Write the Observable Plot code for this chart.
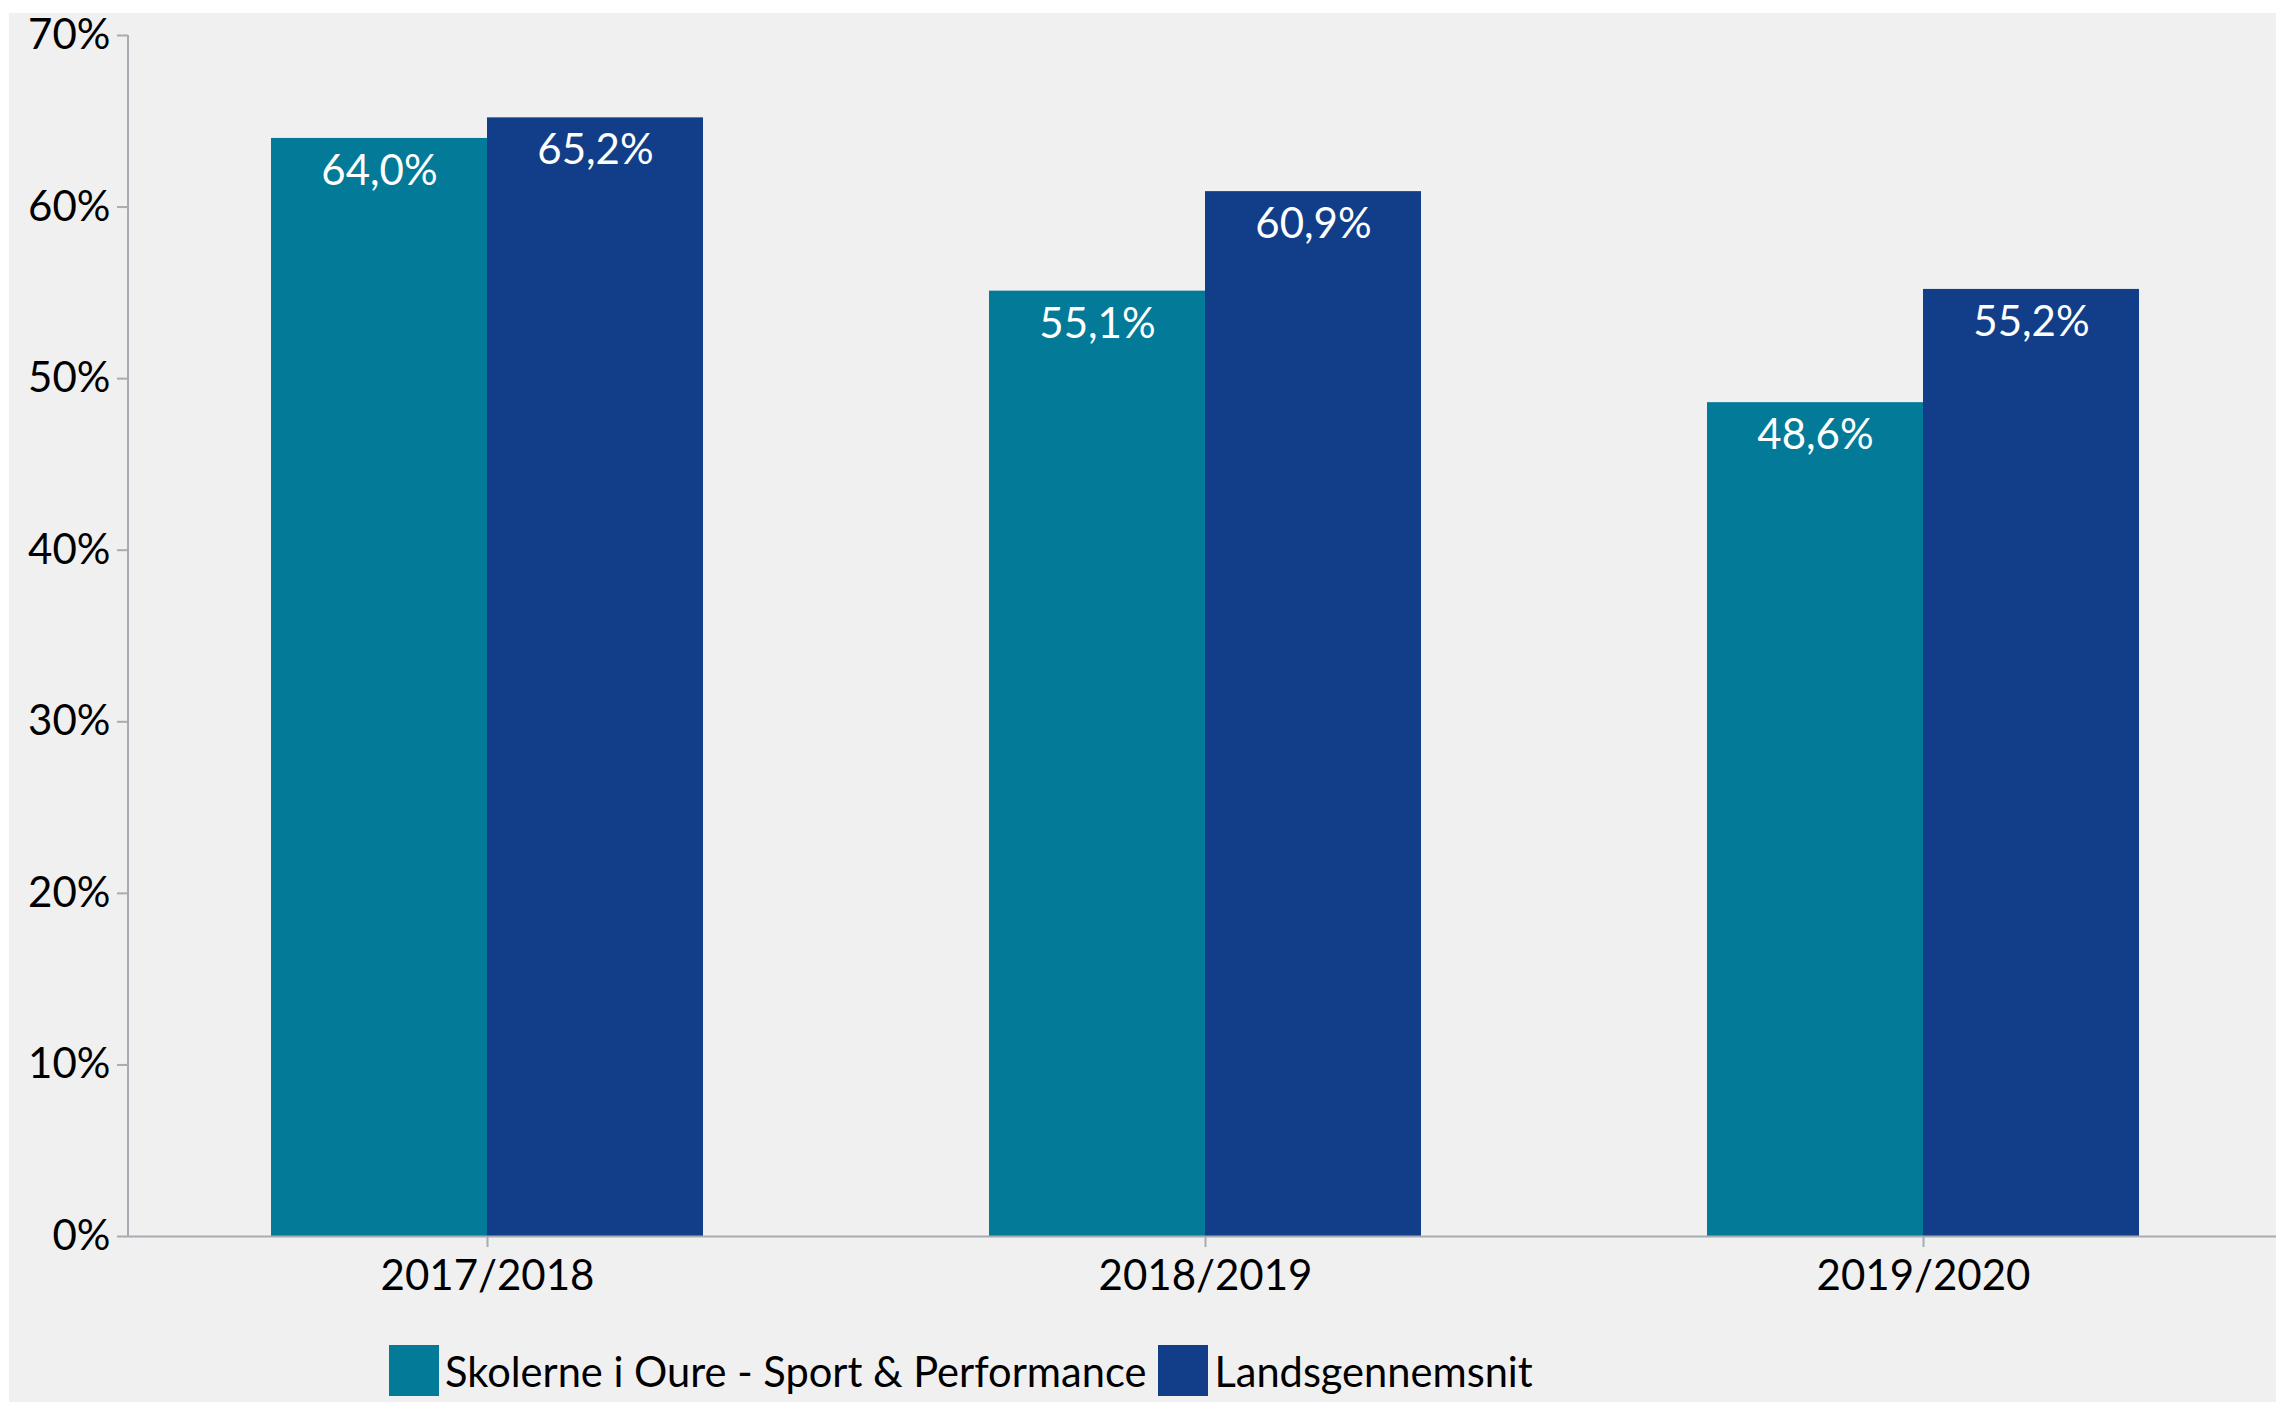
<!DOCTYPE html>
<html>
<head>
<meta charset="utf-8">
<script src="https://cdn.jsdelivr.net/npm/d3@7"></script>
<script src="https://cdn.jsdelivr.net/npm/@observablehq/plot@0.6"></script>
<style>
  html, body { margin: 0; padding: 0; background: #ffffff; overflow: hidden; }
  #panel { position: absolute; left: 9px; top: 13px; width: 2267px; height: 1389px; background: #f0f0f0; }
  #wrap { position: absolute; left: 9px; top: 0px; width: 2267px; height: 1402px; overflow: hidden; font-family: Lato, sans-serif; }
  #legend { display: flex; align-items: center; padding-left: 380px; margin-top: 22px; font-size: 41.6px; color: #000; }
  .item { display: flex; align-items: center; margin-right: 12px; }
  .sw { width: 50px; height: 51px; margin-right: 6px; }
</style>
</head>
<body>
<div id="panel"></div>
<div id="wrap"><div id="chart"></div><div id="legend"></div></div>
<script>
const years = ["2017/2018", "2018/2019", "2019/2020"];
const seriesNames = ["Skolerne i Oure - Sport & Performance", "Landsgennemsnit"];
const skolerne = [64.0, 55.1, 48.6];
const landsgennemsnit = [65.2, 60.9, 55.2];
const yTicks = [0, 10, 20, 30, 40, 50, 60, 70];
const colors = ["#027a98", "#123e89"];
const axisGray = "#a7acb2";

const data = [];
years.forEach((y, i) => {
  data.push({year: y, series: seriesNames[0], value: skolerne[i]});
  data.push({year: y, series: seriesNames[1], value: landsgennemsnit[i]});
});

const W = 2273, H = 1323, ML = 119, MT = 35, MB = 87;
const chart = Plot.plot({
  width: W, height: H,
  marginLeft: ML, marginRight: 0, marginTop: MT, marginBottom: MB,
  style: {fontFamily: "Lato, sans-serif", fontSize: "42px", background: "transparent", color: "#000", overflow: "visible", maxWidth: "none"},
  fx: {domain: years, paddingInner: 0, paddingOuter: 0, label: null},
  x: {domain: seriesNames, paddingInner: 0, paddingOuter: 0.662, axis: null},
  y: {domain: [0, 70], label: null},
  color: {domain: seriesNames, range: colors},
  marks: [
    Plot.barY(data, {fx: "year", x: "series", y: "value", fill: "series"}),
    Plot.ruleY([0], {stroke: axisGray, strokeWidth: 2}),
    Plot.text(data, {fx: "year", x: "series", y: "value",
      text: d => d.value.toFixed(1).replace(".", ",") + "%",
      dy: 33, fill: "white", fontSize: 42}),
    Plot.axisY({ticks: yTicks, tickFormat: d => d + "%", tickSize: 11, tickPadding: 7,
      stroke: axisGray, strokeWidth: 2, fill: "#000", label: null, fontSize: 42}),
    Plot.axisFx({anchor: "bottom", tickSize: 11, tickPadding: 13, stroke: axisGray, strokeWidth: 2,
      fill: "#000", label: null, fontSize: 42})
  ]
});
chart.style.maxWidth = "none";

// vertical y-axis line, positioned from Plot's own y scale
const ys = chart.scale("y");
d3.select(chart).append("line")
  .attr("x1", ML).attr("x2", ML)
  .attr("y1", ys.apply(yTicks[yTicks.length - 1])).attr("y2", ys.apply(0))
  .attr("stroke", axisGray).attr("stroke-width", 2);

document.getElementById("chart").appendChild(chart);

const legend = document.getElementById("legend");
seriesNames.forEach((s, i) => {
  const it = document.createElement("div");
  it.className = "item";
  const sw = document.createElement("div");
  sw.className = "sw";
  sw.style.background = colors[i];
  const t = document.createElement("span");
  t.textContent = s;
  it.appendChild(sw); it.appendChild(t);
  legend.appendChild(it);
});
</script>
</body>
</html>
